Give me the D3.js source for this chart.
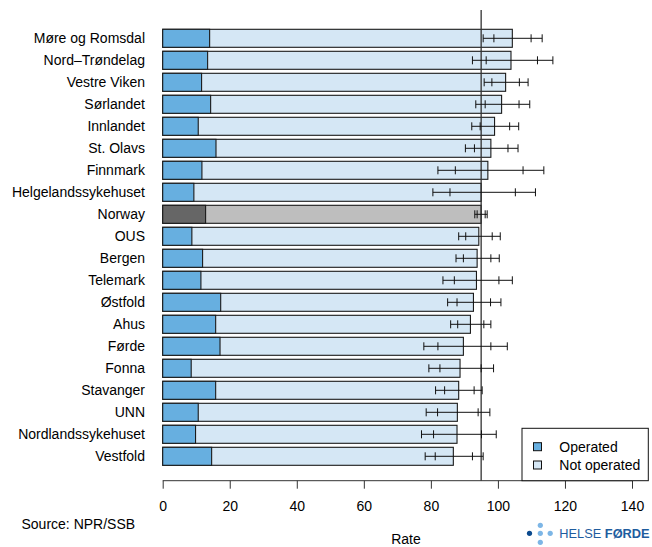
<!DOCTYPE html>
<html lang="en">
<head>
    <meta charset="UTF-8">
    <title>Rate by health trust</title>
    <script src="https://cdn.jsdelivr.net/npm/d3@7"></script>
    <style>
        body { margin: 0; background: white; }
        svg text { font-family: "Liberation Sans", Arial, sans-serif; fill: #000; }
    </style>
</head>
<body>
<svg id="canvas" width="652" height="547"></svg>
<script>
    // data
    const regions = ["Møre og Romsdal", "Nord–Trøndelag", "Vestre Viken", "Sørlandet", "Innlandet",
        "St. Olavs", "Finnmark", "Helgelandssykehuset", "Norway", "OUS", "Bergen", "Telemark",
        "Østfold", "Ahus", "Førde", "Fonna", "Stavanger", "UNN", "Nordlandssykehuset", "Vestfold"];
    const operated = [14.0, 13.4, 11.6, 14.3, 10.6, 15.9, 11.7, 9.3, 12.8, 8.7, 11.9, 11.4,
        17.3, 15.8, 17.1, 8.5, 15.8, 10.6, 9.8, 14.6];
    const total = [104.3, 103.9, 102.3, 101.1, 99.0, 97.9, 97.0, 95.0, 95.0, 94.3, 93.8, 93.6,
        92.7, 91.8, 89.7, 88.7, 88.3, 87.9, 87.8, 86.7];
    const outerLow = [95.6, 92.4, 95.9, 93.4, 92.2, 90.3, 82.1, 80.6, 93.1, 88.3, 87.5, 83.6,
        85.0, 85.9, 77.9, 79.4, 81.4, 78.6, 77.2, 78.3];
    const innerLow = [98.8, 96.5, 98.2, 96.2, 94.7, 93.0, 87.3, 85.7, 93.8, 90.4, 89.7, 87.0,
        87.8, 88.0, 82.1, 82.7, 84.1, 82.0, 80.8, 81.3];
    const innerHigh = [109.9, 111.8, 106.4, 106.3, 103.5, 103.0, 107.5, 105.2, 96.2, 98.3, 97.9, 100.3,
        97.8, 95.8, 97.9, 95.0, 92.9, 94.1, 95.1, 92.4];
    const outerHigh = [113.2, 116.4, 109.0, 109.5, 106.2, 106.0, 113.7, 111.2, 96.8, 100.7, 100.4, 104.3,
        100.9, 97.9, 102.8, 98.7, 95.3, 97.6, 99.5, 95.6];
    const nationalRate = 95.0;
    const xTicks = [0, 20, 40, 60, 80, 100, 120, 140];

    const rows = regions.map((r, i) => ({
        name: r, op: operated[i], tot: total[i],
        lo2: outerLow[i], lo1: innerLow[i], hi1: innerHigh[i], hi2: outerHigh[i]
    }));

    const svg = d3.select('svg');
    const x = d3.scaleLinear().domain([0, 140]).range([162.7, 632]);
    const y = d3.scaleBand().domain(regions).range([27.3, 467.3])
        .paddingInner(0.182).paddingOuter(0.091);
    const axisY = 480.7;
    const fs = '14px';

    const colOp = "#67afe0", colNot = "#d5e7f5";
    const colOpN = "#666666", colNotN = "#bebebe";

    // not operated (full bar) then operated part on top
    const bars = svg.append('g');
    bars.selectAll('rect.tot')
        .data(rows).enter().append('rect')
        .attr('class', 'tot')
        .attr('x', x(0)).attr('y', d => y(d.name))
        .attr('width', d => x(d.tot) - x(0)).attr('height', y.bandwidth())
        .attr('fill', d => d.name === "Norway" ? colNotN : colNot)
        .attr('stroke', '#1a1a1a').attr('stroke-width', 1.1);
    bars.selectAll('rect.op')
        .data(rows).enter().append('rect')
        .attr('class', 'op')
        .attr('x', x(0)).attr('y', d => y(d.name))
        .attr('width', d => x(d.op) - x(0)).attr('height', y.bandwidth())
        .attr('fill', d => d.name === "Norway" ? colOpN : colOp)
        .attr('stroke', '#1a1a1a').attr('stroke-width', 1.1);

    // national reference line
    svg.append('line')
        .attr('x1', x(nationalRate)).attr('x2', x(nationalRate))
        .attr('y1', 10).attr('y2', axisY)
        .attr('stroke', '#333').attr('stroke-width', 1.3);

    // error bars with inner and outer ticks
    const err = svg.append('g').attr('stroke', '#111').attr('stroke-width', 1);
    rows.forEach(d => {
        const cy = y(d.name) + y.bandwidth() / 2;
        err.append('line').attr('x1', x(d.lo2)).attr('x2', x(d.hi2)).attr('y1', cy).attr('y2', cy);
        [d.lo2, d.lo1, d.hi1, d.hi2].forEach(v => {
            err.append('line').attr('x1', x(v)).attr('x2', x(v)).attr('y1', cy - 4).attr('y2', cy + 4);
        });
    });

    // category labels
    svg.append('g').selectAll('text')
        .data(rows).enter().append('text')
        .attr('x', 145).attr('y', d => y(d.name) + y.bandwidth() / 2)
        .attr('dy', '0.35em').attr('text-anchor', 'end')
        .attr('font-size', fs)
        .text(d => d.name);

    // x axis
    const xAxis = d3.axisBottom(x).tickValues(xTicks).tickSize(8).tickPadding(12);
    const gx = svg.append('g').attr('transform', `translate(0,${axisY})`).call(xAxis);
    gx.select('.domain').attr('stroke', '#333').attr('d', `M${x(0)},0H${x(140)}`);
    gx.selectAll('.tick line').attr('stroke', '#333');
    gx.selectAll('.tick text').attr('font-size', fs)
        .attr('font-family', '"Liberation Sans", Arial, sans-serif').attr('fill', '#000');

    svg.append('text').attr('x', 406).attr('y', 544).attr('text-anchor', 'middle')
        .attr('font-size', fs).text('Rate');
    svg.append('text').attr('x', 21.5).attr('y', 529)
        .attr('font-size', fs).text('Source: NPR/SSB');

    // legend
    const lg = svg.append('g');
    lg.append('rect').attr('x', 522).attr('y', 428.3).attr('width', 126.3).attr('height', 52.4)
        .attr('fill', 'white').attr('stroke', '#111').attr('stroke-width', 1);
    [["Operated", colOp], ["Not operated", colNot]].forEach((e, i) => {
        const cy = 446.7 + i * 18.3;
        lg.append('rect').attr('x', 533.5).attr('y', cy - 4).attr('width', 8).attr('height', 8)
            .attr('fill', e[1]).attr('stroke', '#111').attr('stroke-width', 1);
        lg.append('text').attr('x', 559.3).attr('y', cy).attr('dy', '0.35em')
            .attr('font-size', fs).text(e[0]);
    });

    // logo
    const logo = svg.append('g');
    logo.append('circle').attr('cx', 529.5).attr('cy', 533.3).attr('r', 2.6).attr('fill', '#0b4a8e');
    [[540.3, 525.3], [540.3, 533.3], [550.2, 533.3], [540.3, 542.3]].forEach(p => {
        logo.append('circle').attr('cx', p[0]).attr('cy', p[1]).attr('r', 2.6).attr('fill', '#7db6e6');
    });
    const lt = logo.append('text').attr('x', 559.3).attr('y', 538.3)
        .attr('font-size', '12.8px').style('fill', '#1e5c9e');
    lt.append('tspan').text('HELSE ');
    lt.append('tspan').attr('font-weight', 'bold').text('FØRDE');
</script>
</body>
</html>
